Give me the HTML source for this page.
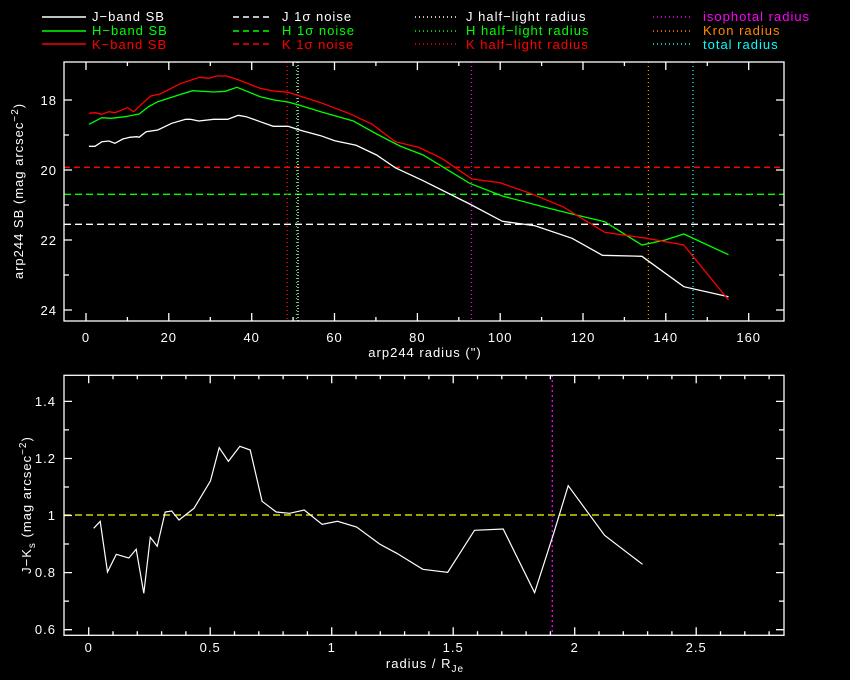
<!DOCTYPE html>
<html><head><style>body{margin:0;background:#000}svg{display:block}text{letter-spacing:1px}</style></head><body>
<svg width="850" height="680" viewBox="0 0 850 680" xmlns="http://www.w3.org/2000/svg" font-family="Liberation Sans, sans-serif" font-size="13">
<rect width="850" height="680" fill="#000"/>
<!-- legend -->
<g stroke-width="1.5" fill="none">
<line x1="42" y1="17" x2="86" y2="17" stroke="#fff"/>
<line x1="42" y1="31" x2="86" y2="31" stroke="#0f0"/>
<line x1="42" y1="44" x2="86" y2="44" stroke="#f00"/>
<line x1="233" y1="17" x2="269" y2="17" stroke="#fff" stroke-dasharray="6,4"/>
<line x1="233" y1="31" x2="269" y2="31" stroke="#0f0" stroke-dasharray="6,4"/>
<line x1="233" y1="44" x2="269" y2="44" stroke="#f00" stroke-dasharray="6,4"/>
<line x1="415" y1="17" x2="456" y2="17" stroke="#fff" stroke-dasharray="1,3"/>
<line x1="415" y1="31" x2="456" y2="31" stroke="#0f0" stroke-dasharray="1,3"/>
<line x1="415" y1="44" x2="456" y2="44" stroke="#f00" stroke-dasharray="1,3"/>
<line x1="653" y1="17" x2="693" y2="17" stroke="#f0f" stroke-dasharray="1,3"/>
<line x1="653" y1="31" x2="693" y2="31" stroke="#f80" stroke-dasharray="1,3"/>
<line x1="653" y1="44" x2="693" y2="44" stroke="#0ff" stroke-dasharray="1,3"/>
</g>
<g>
<text x="92" y="21" fill="#fff">J−band SB</text>
<text x="92" y="35" fill="#0f0">H−band SB</text>
<text x="92" y="49" fill="#f00">K−band SB</text>
<text x="282" y="21" fill="#fff">J 1σ noise</text>
<text x="282" y="35" fill="#0f0">H 1σ noise</text>
<text x="282" y="49" fill="#f00">K 1σ noise</text>
<text x="466" y="21" fill="#fff">J half−light radius</text>
<text x="466" y="35" fill="#0f0">H half−light radius</text>
<text x="466" y="49" fill="#f00">K half−light radius</text>
<text x="703" y="21" fill="#f0f">isophotal radius</text>
<text x="703" y="35" fill="#f80">Kron radius</text>
<text x="703" y="49" fill="#0ff">total radius</text>
</g>

<!-- TOP PLOT -->
<g fill="none" stroke-width="1.3">
<line x1="64" y1="167.3" x2="784" y2="167.3" stroke="#f00" stroke-dasharray="6,4"/>
<line x1="64" y1="194.3" x2="784" y2="194.3" stroke="#0f0" stroke-dasharray="7,4"/>
<line x1="64" y1="224.3" x2="784" y2="224.3" stroke="#fff" stroke-dasharray="7,4"/>
<line x1="287.2" y1="62" x2="287.2" y2="321" stroke="#f00" stroke-dasharray="1,3"/>
<line x1="296.5" y1="62" x2="296.5" y2="321" stroke="#0f0" stroke-dasharray="1,3"/>
<line x1="298" y1="62" x2="298" y2="321" stroke="#fff" stroke-dasharray="1,2"/>
<line x1="471.5" y1="62" x2="471.5" y2="321" stroke="#f0f" stroke-dasharray="1,3"/>
<line x1="648.4" y1="62" x2="648.4" y2="321" stroke="#f80" stroke-dasharray="1,3"/>
<line x1="693" y1="62" x2="693" y2="321" stroke="#0ff" stroke-dasharray="1,3"/>
<polyline stroke="#fff" points="88.9,146.3 95,146.3 101.9,141.7 108.9,141 114.9,143.3 122.8,139 129.8,137.3 136.8,136.7 139.1,137.3 146.1,131.7 157.8,130 171.7,123.3 185.7,119.3 190.4,119.3 198.7,121 213.6,119.3 227.6,119.3 238.3,115.3 246.2,116.7 260.2,121.7 273.2,126.3 288.1,126.3 302.1,130.7 320.7,135.7 334.7,140.7 356.1,145.3 376.6,155 395.2,167.7 423.1,180.7 469.7,204 502.3,221.3 534.9,225.7 572.1,238.3 602.4,255.3 641.9,256.3 683.8,286.7 728.5,296.7"/>
<polyline stroke="#0f0" points="88.9,124.3 101.9,117.7 111.2,118.3 125.2,116.7 139.1,114 148.5,106.7 157.8,101.7 181,94.3 192.7,90.7 213.6,92 225.3,91.3 236.9,87.3 260.2,96.7 274.2,100 288.1,102 302.1,106 320.7,111.7 353.3,121 376.6,134 399.9,146 423.1,155 469.7,183.3 502.3,196 548.8,208.3 572.1,214 604.7,221.7 641.9,245 665.2,240 683.8,234 728.5,254.7"/>
<polyline stroke="#f00" points="88.9,113.3 95,112.7 101.9,114.3 108.9,111.7 114.9,112.7 127.5,107.7 133.6,111.7 141.5,104.3 150.8,96 160.1,94 181,83.3 199.7,77.3 209,78.3 216,76 226.7,76 236.9,79.3 260.2,88.3 273.2,91 288.1,92.3 302.1,96.7 320.7,102.7 348.6,113.3 371.9,124 395.2,141.7 418.5,147.3 441.7,158.3 472,179 500,182.7 530.2,193.3 562.8,206.7 604.7,232.3 646.6,238.3 683.8,245 728.5,300"/>
</g>
<g stroke="#fff" stroke-width="1.3" fill="none">
<rect x="64" y="62" width="720" height="259"/>
<path d="M86,321v-8M86,62v8M127.4,321v-4M127.4,62v4M168.8,321v-8M168.8,62v8M210.3,321v-4M210.3,62v4M251.7,321v-8M251.7,62v8M293.1,321v-4M293.1,62v4M334.5,321v-8M334.5,62v8M375.9,321v-4M375.9,62v4M417.4,321v-8M417.4,62v8M458.8,321v-4M458.8,62v4M500.2,321v-8M500.2,62v8M541.6,321v-4M541.6,62v4M583,321v-8M583,62v8M624.4,321v-4M624.4,62v4M665.8,321v-8M665.8,62v8M707.3,321v-4M707.3,62v4M748.7,321v-8M748.7,62v8"/>
<path d="M64,100h8M784,100h-8M64,135h5M784,135h-5M64,170h8M784,170h-8M64,205h5M784,205h-5M64,240h8M784,240h-8M64,275h5M784,275h-5M64,310h8M784,310h-8"/>
</g>
<g fill="#fff" text-anchor="middle">
<text x="86" y="342">0</text><text x="168.8" y="342">20</text><text x="251.7" y="342">40</text><text x="334.5" y="342">60</text><text x="417.4" y="342">80</text><text x="500.2" y="342">100</text><text x="583" y="342">120</text><text x="665.8" y="342">140</text><text x="748.7" y="342">160</text>
<text x="425" y="357">arp244 radius (")</text>
</g>
<g fill="#fff" text-anchor="end">
<text x="57" y="105">18</text><text x="57" y="175">20</text><text x="57" y="245">22</text><text x="57" y="315">24</text>
</g>
<text transform="translate(23,191) rotate(-90)" fill="#fff" text-anchor="middle">arp244 SB (mag arcsec<tspan dy="-5" font-size="10">−2</tspan><tspan dy="5">)</tspan></text>

<!-- BOTTOM PLOT -->
<line x1="64" y1="515" x2="784" y2="515" stroke="#ff0" stroke-width="1.3" stroke-dasharray="7,4"/>
<line x1="552.3" y1="375" x2="552.3" y2="635" stroke="#f0f" stroke-width="1.3" stroke-dasharray="2,3"/>
<polyline fill="none" stroke="#fff" stroke-width="1.2" points="93.7,528.3 100.2,521.3 107.5,572 116.3,554.3 128.9,558 136.2,549.3 143.8,593.3 150.3,537.3 157.2,546.3 165.2,512 171.7,511 179,520 194,508.3 210.4,481 219.2,447.7 228.4,461.3 239.9,446.3 250.2,450 262.1,501.3 276.2,512 289.6,513.3 304.2,510 322.1,524.3 337.5,521.3 356.6,527 379.6,544 396.8,553.3 422.8,569.3 447.7,572.3 474.5,530.3 503.2,529 534.6,592.7 553.7,533.3 568.2,485.7 604.6,535.3 642.5,564.3"/>
<g stroke="#fff" stroke-width="1.3" fill="none">
<rect x="64" y="375.3" width="720" height="260"/>
<path d="M88.7,635.3v-8M88.7,375.3v8M113,635.3v-4M113,375.3v4M137.3,635.3v-4M137.3,375.3v4M161.6,635.3v-4M161.6,375.3v4M185.9,635.3v-4M185.9,375.3v4M210.2,635.3v-8M210.2,375.3v8M234.5,635.3v-4M234.5,375.3v4M258.8,635.3v-4M258.8,375.3v4M283.1,635.3v-4M283.1,375.3v4M307.4,635.3v-4M307.4,375.3v4M331.7,635.3v-8M331.7,375.3v8M356,635.3v-4M356,375.3v4M380.3,635.3v-4M380.3,375.3v4M404.6,635.3v-4M404.6,375.3v4M428.9,635.3v-4M428.9,375.3v4M453.2,635.3v-8M453.2,375.3v8M477.5,635.3v-4M477.5,375.3v4M501.8,635.3v-4M501.8,375.3v4M526.1,635.3v-4M526.1,375.3v4M550.4,635.3v-4M550.4,375.3v4M574.7,635.3v-8M574.7,375.3v8M599,635.3v-4M599,375.3v4M623.3,635.3v-4M623.3,375.3v4M647.6,635.3v-4M647.6,375.3v4M671.9,635.3v-4M671.9,375.3v4M696.2,635.3v-8M696.2,375.3v8M720.5,635.3v-4M720.5,375.3v4M744.8,635.3v-4M744.8,375.3v4M769.1,635.3v-4M769.1,375.3v4"/>
<path d="M64,401.4h8M784,401.4h-8M64,429.9h5M784,429.9h-5M64,458.5h8M784,458.5h-8M64,487h5M784,487h-5M64,515.5h8M784,515.5h-8M64,544h5M784,544h-5M64,572.6h8M784,572.6h-8M64,601.1h5M784,601.1h-5M64,629.7h8M784,629.7h-8"/>
</g>
<g fill="#fff" text-anchor="middle">
<text x="88.7" y="652">0</text><text x="210.2" y="652">0.5</text><text x="331.7" y="652">1</text><text x="453.2" y="652">1.5</text><text x="574.7" y="652">2</text><text x="696.2" y="652">2.5</text>
<text x="425" y="668">radius / R<tspan dy="4" font-size="10">Je</tspan></text>
</g>
<g fill="#fff" text-anchor="end">
<text x="56" y="406">1.4</text><text x="56" y="463">1.2</text><text x="56" y="520">1</text><text x="56" y="577">0.8</text><text x="56" y="634">0.6</text>
</g>
<text transform="translate(31,505) rotate(-90)" fill="#fff" text-anchor="middle">J−K<tspan dy="4" font-size="10">s</tspan><tspan dy="-4"> (mag arcsec</tspan><tspan dy="-5" font-size="10">−2</tspan><tspan dy="5">)</tspan></text>
</svg>
</body></html>
